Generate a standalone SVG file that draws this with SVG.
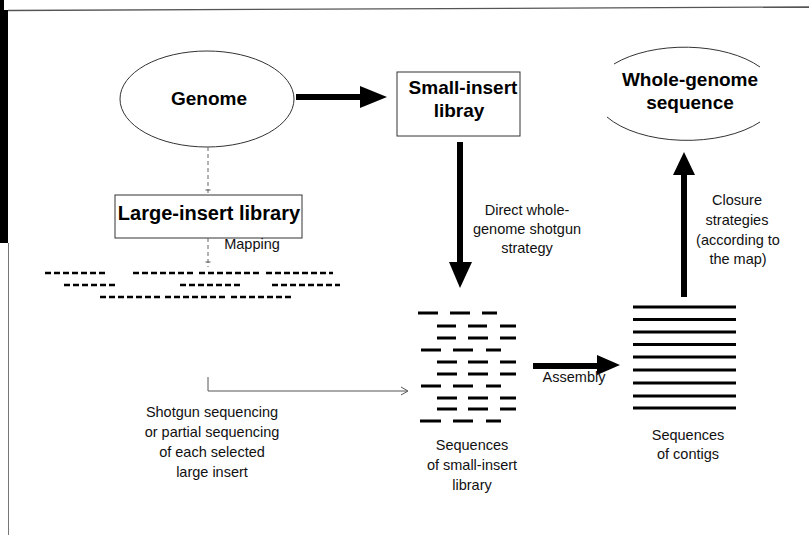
<svg xmlns="http://www.w3.org/2000/svg" width="809" height="535" viewBox="0 0 809 535">
  <defs>
    <style>
      .bold { font-family: "Liberation Sans", Arial, sans-serif; font-weight: bold; font-size: 19px; fill: #000; text-anchor: middle; }
      .lbl { font-family: "Liberation Sans", Arial, sans-serif; font-size: 14.5px; fill: #111; text-anchor: middle; }
      .outline { fill: none; stroke: #333; stroke-width: 1; }
      .thin { fill: none; stroke: #555; stroke-width: 1; }
      .dash { fill: none; stroke: #666; stroke-width: 1; stroke-dasharray: 4 3; }
      .shaft { fill: none; stroke: #000; stroke-width: 6; }
      .head { fill: #000; stroke: none; }
      .frag { stroke: #000; stroke-width: 2.6; stroke-dasharray: 6 3; fill: none; }
      .read { stroke: #000; stroke-width: 3; fill: none; }
      .contig { stroke: #000; stroke-width: 3; fill: none; }
    </style>
  </defs>
  <rect width="809" height="535" fill="#fff"/>

  <!-- page frame -->
  <g id="frame">
    <rect x="0" y="0" width="4" height="12" fill="#000"/>
    <rect x="0" y="10" width="8" height="233" fill="#000"/>
    <line x1="8.5" y1="243" x2="8.5" y2="535" stroke="#777" stroke-width="1"/>
    <line x1="8" y1="10.5" x2="809" y2="7" stroke="#555" stroke-width="1.3"/>
  </g>

  <!-- nodes -->
  <g id="genome">
    <ellipse class="outline" cx="207" cy="99" rx="87" ry="48"/>
    <text class="bold" x="209" y="105">Genome</text>
  </g>

  <g id="small-insert-library">
    <rect class="outline" x="397" y="72" width="123" height="64"/>
    <text class="bold" x="463" y="94">Small-insert</text>
    <text class="bold" x="459" y="117">libray</text>
  </g>

  <g id="whole-genome-sequence">
    <path class="outline" d="M 614 64 A 93 48 0 0 1 760 67"/>
    <path class="outline" d="M 607 117 A 93 48 0 0 0 760 122"/>
    <text class="bold" x="690" y="86">Whole-genome</text>
    <text class="bold" x="690" y="109">sequence</text>
  </g>

  <g id="large-insert-library">
    <rect class="outline" x="115" y="195" width="187" height="43"/>
    <text class="bold" x="209" y="220" style="font-size:20px">Large-insert library</text>
  </g>

  <g id="mapped-fragments">
    <line class="frag" x1="45" y1="273" x2="107" y2="273"/>
    <line class="frag" x1="133" y1="273" x2="196" y2="273"/>
    <line class="frag" x1="199" y1="273" x2="262" y2="273"/>
    <line class="frag" x1="266" y1="273" x2="333" y2="273"/>
    <line class="frag" x1="64" y1="285" x2="118" y2="285"/>
    <line class="frag" x1="180" y1="285" x2="240" y2="285"/>
    <line class="frag" x1="272" y1="285" x2="340" y2="285"/>
    <line class="frag" x1="100" y1="297" x2="162" y2="297"/>
    <line class="frag" x1="165" y1="297" x2="228" y2="297"/>
    <line class="frag" x1="231" y1="297" x2="293" y2="297"/>
  </g>

  <g id="small-insert-reads">
    <path class="read" d="M418 313h20 M450 313h20 M482 313h15"/>
    <path class="read" d="M437 326h19 M468 326h19 M500 326h16"/>
    <path class="read" d="M437 338h19 M468 338h20 M500 338h16"/>
    <path class="read" d="M421 350h20 M453 350h20 M486 350h15"/>
    <path class="read" d="M437 362h20 M468 362h20 M500 362h16"/>
    <path class="read" d="M437 374h20 M468 374h20 M500 374h16"/>
    <path class="read" d="M421 386h20 M453 386h20 M486 386h15"/>
    <path class="read" d="M437 398h20 M468 398h20 M500 398h16"/>
    <path class="read" d="M437 409h20 M468 409h20 M500 409h16"/>
    <path class="read" d="M420 421h21 M453 421h20 M486 421h15"/>
  </g>

  <g id="contigs">
    <path class="contig" d="M633 307h103 M633 319.5h103 M633 332h103 M633 344.5h103 M633 357h103 M633 370h103 M633 383h103 M633 396h103 M633 408h103"/>
  </g>

  <!-- connectors -->
  <g id="connectors">
    <!-- Genome to small-insert library -->
    <line class="shaft" x1="296" y1="97" x2="362" y2="97"/>
    <polygon class="head" points="360,86 387,97 360,108"/>

    <!-- Genome to large-insert library -->
    <line class="dash" x1="208" y1="147" x2="208" y2="195"/>
    <line class="thin" x1="205.5" y1="190" x2="210.5" y2="190"/>

    <!-- mapping -->
    <line class="dash" x1="208" y1="238" x2="208" y2="267"/>
    <line class="thin" x1="205.5" y1="262" x2="210.5" y2="262"/>

    <!-- fragments to small-insert reads -->
    <path class="thin" d="M 208 377 V 391 H 407"/>
    <path class="thin" d="M 401 387 L 408 391 L 401 395"/>

    <!-- direct whole-genome shotgun -->
    <line class="shaft" x1="460" y1="142" x2="460" y2="264"/>
    <polygon class="head" points="449,262 472,262 460,288"/>

    <!-- assembly -->
    <line class="shaft" x1="533" y1="366" x2="599" y2="366"/>
    <polygon class="head" points="597,355 620,365 597,375"/>

    <!-- closure -->
    <line class="shaft" x1="684" y1="297" x2="684" y2="173"/>
    <polygon class="head" points="673,175 695,175 684,152"/>
  </g>

  <!-- labels -->
  <g id="labels">
    <text class="lbl" x="252" y="249">Mapping</text>
    <text class="lbl" x="527" y="215">Direct whole-</text>
    <text class="lbl" x="527" y="234">genome shotgun</text>
    <text class="lbl" x="527" y="253">strategy</text>
    <text class="lbl" x="737" y="205">Closure</text>
    <text class="lbl" x="737" y="225">strategies</text>
    <text class="lbl" x="738" y="245">(according to</text>
    <text class="lbl" x="738" y="264">the map)</text>
    <text class="lbl" x="574" y="382">Assembly</text>
    <text class="lbl" x="212" y="417">Shotgun sequencing</text>
    <text class="lbl" x="212" y="437">or partial sequencing</text>
    <text class="lbl" x="212" y="457">of each selected</text>
    <text class="lbl" x="212" y="477">large insert</text>
    <text class="lbl" x="472" y="450">Sequences</text>
    <text class="lbl" x="472" y="470">of small-insert</text>
    <text class="lbl" x="472" y="490">library</text>
    <text class="lbl" x="688" y="440">Sequences</text>
    <text class="lbl" x="688" y="459">of contigs</text>
  </g>
</svg>
